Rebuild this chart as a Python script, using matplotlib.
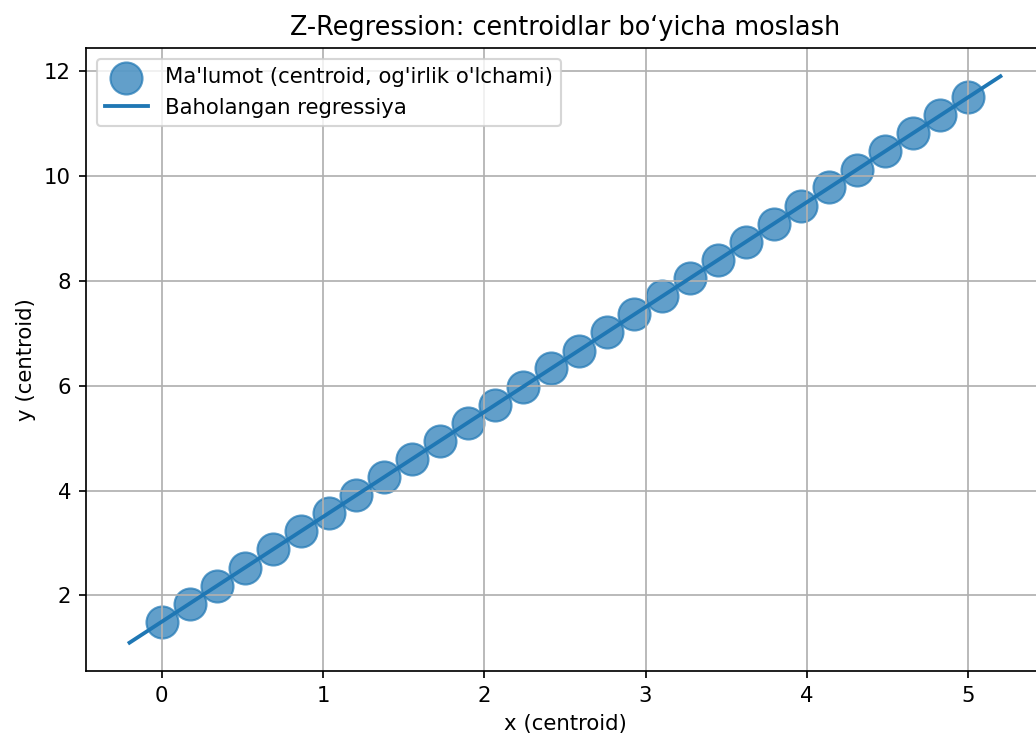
import numpy as np
import matplotlib
matplotlib.use("Agg")
import matplotlib.pyplot as plt

# data: centroids
x_pts = [0.0, 0.1724, 0.3448, 0.5172, 0.6897, 0.8621, 1.0345, 1.2069, 1.3793, 1.5517,
         1.7241, 1.8966, 2.0690, 2.2414, 2.4138, 2.5862, 2.7586, 2.9310, 3.1034, 3.2759,
         3.4483, 3.6207, 3.7931, 3.9655, 4.1379, 4.3103, 4.4828, 4.6552, 4.8276, 5.0]
y_pts = [1.50, 1.84, 2.19, 2.53, 2.88, 3.22, 3.57, 3.91, 4.26, 4.60,
         4.95, 5.29, 5.64, 5.98, 6.33, 6.67, 7.02, 7.36, 7.71, 8.05,
         8.40, 8.74, 9.09, 9.43, 9.78, 10.12, 10.47, 10.81, 11.16, 11.50]
line_x = [-0.2, 5.2]
line_y = [1.1, 11.9]

DPI = 153
fig = plt.figure(figsize=(1036 / DPI, 738 / DPI), dpi=DPI)
ax = fig.add_axes([0.0830, 0.0908, 0.9247, 0.8442])

ax.scatter(x_pts, y_pts, s=227, color='C0', alpha=0.7, label="Ma'lumot (centroid, og'irlik o'lchami)")
ax.plot(line_x, line_y, color='C0', lw=1.8, label="Baholangan regressiya")

ax.set_title("Z-Regression: centroidlar bo\u2018yicha moslash", fontsize=12)
ax.set_xlabel("x (centroid)")
ax.set_ylabel("y (centroid)")
ax.grid(True)
ax.legend(loc='upper left', markerscale=1)

fig.savefig("out.png", dpi=DPI)
